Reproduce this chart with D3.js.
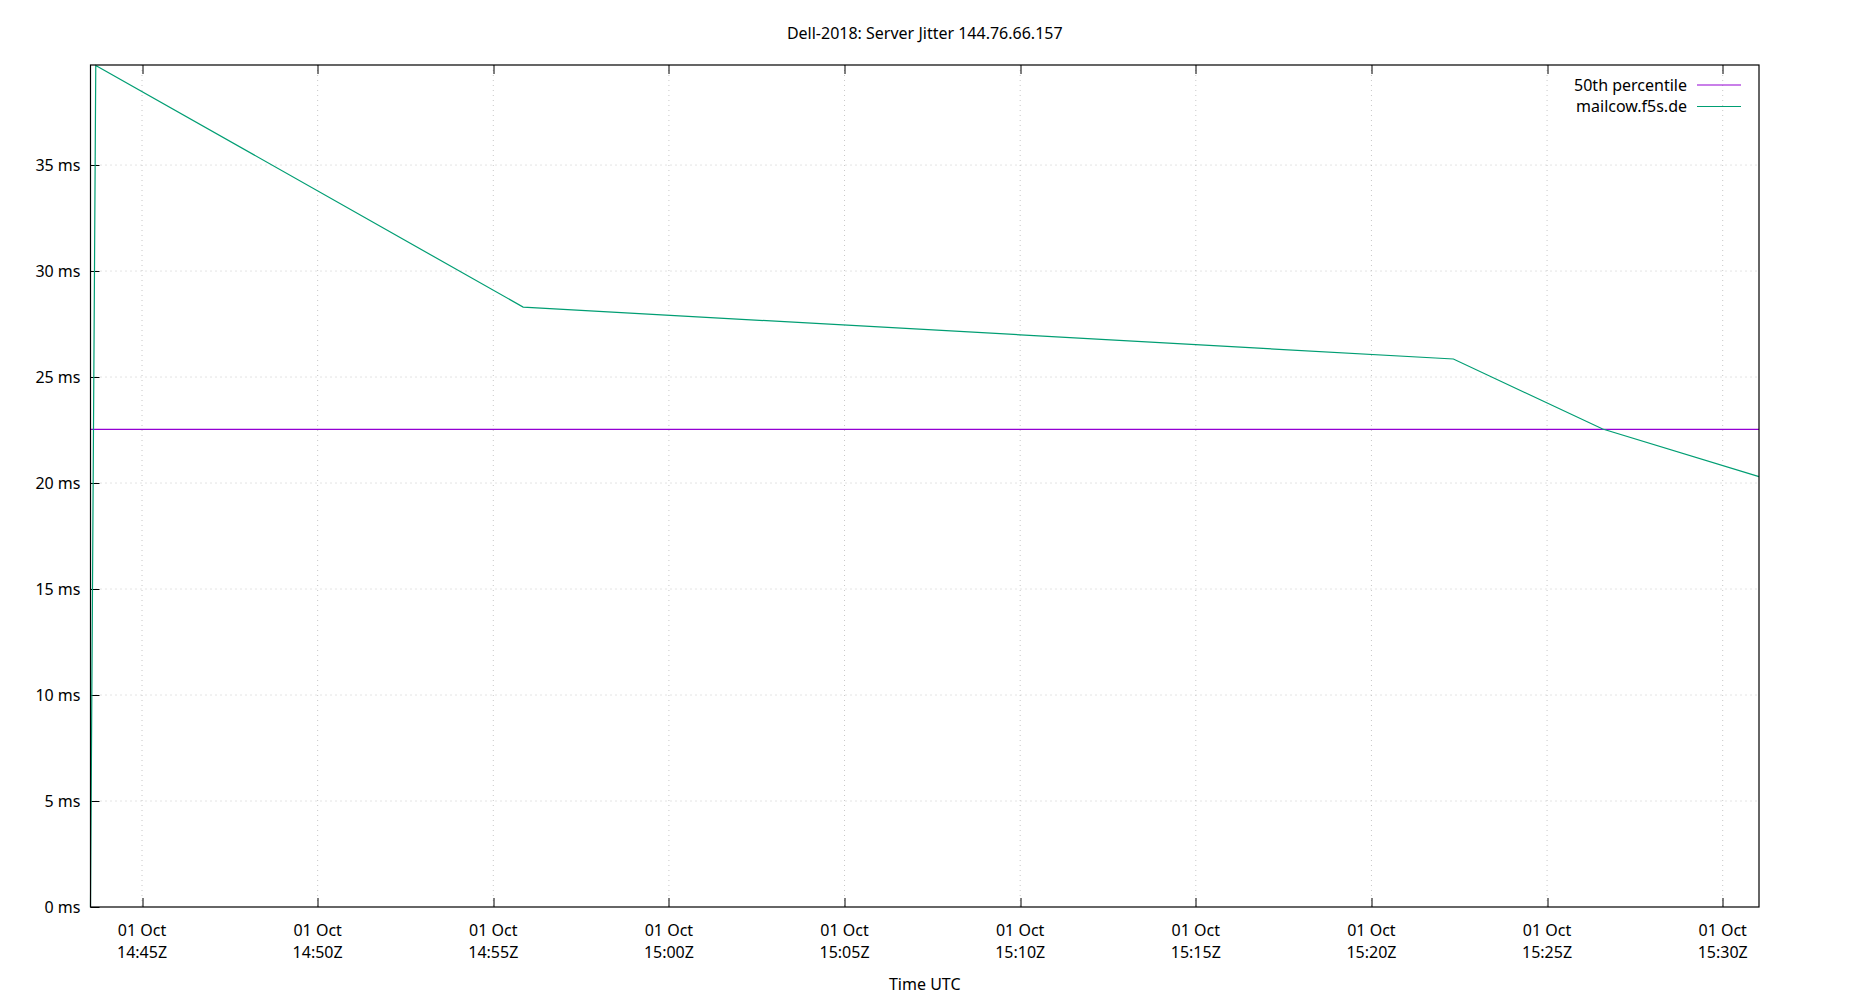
<!DOCTYPE html>
<html>
<head>
<meta charset="utf-8">
<script src="https://cdn.jsdelivr.net/npm/d3@7"></script>
<style>
  body { margin: 0; background: #fff; }
  svg { font-family: "Noto Sans", "Open Sans", sans-serif; }
  .grid line { stroke: #c8c8c8; stroke-width: 1; stroke-dasharray: 1,4; }
</style>
</head>
<body>
<div id="chart"></div>
<script>
// 資料: 時間 (UTC) 與 jitter (ms)
var times = ["2018-10-01T14:43:32Z", "2018-10-01T14:43:41Z", "2018-10-01T14:55:51Z", "2018-10-01T15:22:20Z", "2018-10-01T15:26:35Z", "2018-10-01T15:31:02Z"];
var jitter = [0, 39.7, 28.3, 25.85, 22.55, 20.3];
var percentile50 = 22.53;
var yTicks = [0, 5, 10, 15, 20, 25, 30, 35];
var legendLabels = ["50th percentile", "mailcow.f5s.de"];
var seriesColors = ["#9400d3", "#009e73"];

var W = 1850, H = 1000;
var margin = { top: 65, right: 91, bottom: 93, left: 90.5 };
var width = W - margin.left - margin.right;
var height = H - margin.top - margin.bottom;

var svg = d3.select('#chart').append('svg')
    .attr('width', W)
    .attr('height', H);

var g = svg.append('g')
    .attr('transform', 'translate(' + margin.left + ',' + margin.top + ')');

var data = times.map(function(t, i) {
    return { date: new Date(t), value: jitter[i] };
});

// x 軸: 時間
var x = d3.scaleUtc()
    .domain([new Date("2018-10-01T14:43:32Z"), new Date("2018-10-01T15:31:02Z")])
    .range([0, width]);
var xTicks = x.ticks(d3.utcMinute.every(5));

// y 軸
var y = d3.scaleLinear().domain([0, 39.72]).range([height, 0]);

// grid
var grid = g.append('g').attr('class', 'grid');
grid.selectAll('.gx').data(xTicks).enter().append('line')
    .attr('x1', function(d) { return x(d); })
    .attr('x2', function(d) { return x(d); })
    .attr('y1', 0).attr('y2', height);
grid.selectAll('.gy').data(yTicks.slice(1)).enter().append('line')
    .attr('x1', 0).attr('x2', width)
    .attr('y1', function(d) { return y(d); })
    .attr('y2', function(d) { return y(d); });

// tick marks (inside), x on bottom & top
var tickLen = 9;
var ticks = g.append('g').attr('stroke', '#000').attr('stroke-width', 1);
xTicks.forEach(function(d) {
    var xx = Math.round(x(d)) + 0.5;
    ticks.append('line').attr('x1', xx).attr('x2', xx).attr('y1', height).attr('y2', height - tickLen);
    ticks.append('line').attr('x1', xx).attr('x2', xx).attr('y1', 0).attr('y2', tickLen);
});
yTicks.forEach(function(d) {
    var yy = Math.round(y(d)) + 0.5;
    ticks.append('line').attr('x1', 0).attr('x2', tickLen).attr('y1', yy).attr('y2', yy);
});

// tick labels
var fmtDay = d3.utcFormat('%d %b');
var fmtTime = d3.utcFormat('%H:%MZ');
var xl = g.append('g').attr('font-size', 16).attr('text-anchor', 'middle').attr('fill', '#000');
xTicks.forEach(function(d) {
    xl.append('text').attr('x', x(d)).attr('y', height + 29).text(fmtDay(d));
    xl.append('text').attr('x', x(d)).attr('y', height + 51).text(fmtTime(d));
});
var yl = g.append('g').attr('font-size', 16).attr('text-anchor', 'end').attr('fill', '#000');
yTicks.forEach(function(d) {
    yl.append('text').attr('x', -10).attr('y', y(d)).attr('dy', '0.35em').text(d + ' ms');
});

// series
g.append('line')
    .attr('x1', 0).attr('x2', width)
    .attr('y1', y(percentile50)).attr('y2', y(percentile50))
    .attr('stroke', seriesColors[0]).attr('stroke-width', 1.2);

var line = d3.line()
    .x(function(d) { return x(d.date); })
    .y(function(d) { return y(d.value); });
g.append('path')
    .datum(data)
    .attr('d', line)
    .attr('fill', 'none')
    .attr('stroke', seriesColors[1])
    .attr('stroke-width', 1.2);

// border
g.append('rect')
    .attr('x', 0).attr('y', 0).attr('width', width).attr('height', height)
    .attr('fill', 'none').attr('stroke', '#000').attr('stroke-width', 1.2);

// legend
legendLabels.forEach(function(lab, i) {
    var ly = 20 + i * 21.5;
    g.append('text')
        .attr('x', width - 72).attr('y', ly).attr('dy', '0.35em')
        .attr('text-anchor', 'end').attr('font-size', 16)
        .text(lab);
    g.append('line')
        .attr('x1', width - 62).attr('x2', width - 18)
        .attr('y1', ly).attr('y2', ly)
        .attr('stroke', seriesColors[i]).attr('stroke-width', 1.2);
});

// title & x label
svg.append('text')
    .attr('x', margin.left + width / 2).attr('y', 39)
    .attr('text-anchor', 'middle').attr('font-size', 16)
    .text('Dell-2018: Server Jitter 144.76.66.157');
svg.append('text')
    .attr('x', margin.left + width / 2).attr('y', 990)
    .attr('text-anchor', 'middle').attr('font-size', 16)
    .text('Time UTC');
</script>
</body>
</html>
